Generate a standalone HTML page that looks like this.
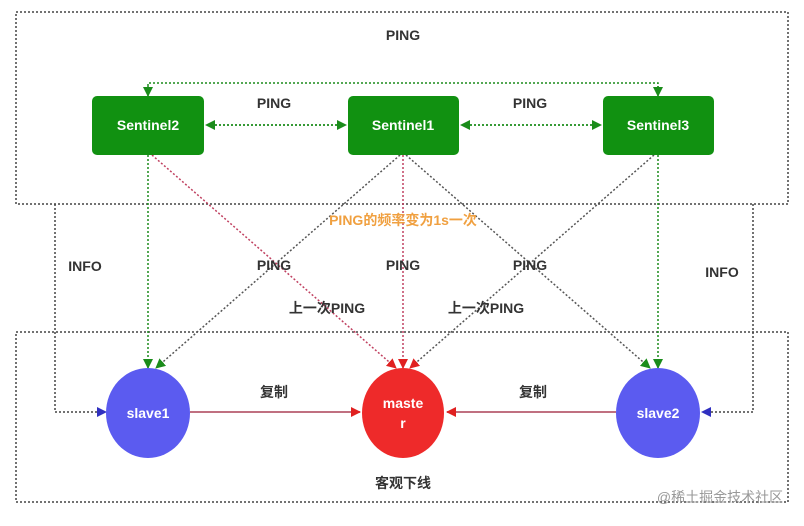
<!DOCTYPE html>
<html><head><meta charset="utf-8"><style>
body{margin:0;background:#fff;}
svg text{font-family:"Liberation Sans","Noto Sans CJK SC",sans-serif;font-weight:bold;}
</style></head><body>
<svg width="804" height="521" viewBox="0 0 804 521" xmlns="http://www.w3.org/2000/svg">
<defs>
<marker id="g" markerWidth="10" markerHeight="10" refX="9" refY="5" orient="auto" markerUnits="userSpaceOnUse"><path d="M0,0 L10,5 L0,10z" fill="#1a8c1a"/></marker>
<marker id="r" markerWidth="10" markerHeight="10" refX="9" refY="5" orient="auto" markerUnits="userSpaceOnUse"><path d="M0,0 L10,5 L0,10z" fill="#e02020"/></marker>
<marker id="b" markerWidth="10" markerHeight="10" refX="9" refY="5" orient="auto" markerUnits="userSpaceOnUse"><path d="M0,0 L10,5 L0,10z" fill="#3030c0"/></marker>
</defs>
<g fill="none" stroke="#444" stroke-width="1.5" stroke-dasharray="2,2">
<rect x="16" y="12" width="772" height="192"/>
<rect x="16" y="332" width="772" height="170"/>
</g>
<g fill="none" stroke-width="1.5" stroke-dasharray="2,2">
<path d="M148,94 V83 H658 V94" stroke="#1a8c1a"/>
<line x1="148" y1="86" x2="148" y2="96" stroke="#1a8c1a" marker-end="url(#g)"/>
<line x1="658" y1="86" x2="658" y2="96" stroke="#1a8c1a" marker-end="url(#g)"/>
<line x1="215" y1="125" x2="346" y2="125" stroke="#1a8c1a" marker-end="url(#g)"/>
<line x1="337" y1="125" x2="206" y2="125" stroke="#1a8c1a" marker-end="url(#g)"/>
<line x1="470" y1="125" x2="601" y2="125" stroke="#1a8c1a" marker-end="url(#g)"/>
<line x1="592" y1="125" x2="461" y2="125" stroke="#1a8c1a" marker-end="url(#g)"/>
<line x1="148" y1="155" x2="148" y2="368" stroke="#1a8c1a" marker-end="url(#g)"/>
<line x1="658" y1="155" x2="658" y2="368" stroke="#1a8c1a" marker-end="url(#g)"/>
<line x1="400" y1="155" x2="156" y2="368" stroke="#555" marker-end="url(#g)"/>
<line x1="406" y1="155" x2="650" y2="368" stroke="#555" marker-end="url(#g)"/>
<line x1="152" y1="155" x2="396" y2="368" stroke="#c04060" marker-end="url(#r)"/>
<line x1="403" y1="155" x2="403" y2="368" stroke="#c04060" marker-end="url(#r)"/>
<line x1="654" y1="155" x2="410" y2="368" stroke="#555" marker-end="url(#r)"/>
<path d="M55,204 V412 H106" stroke="#444" marker-end="url(#b)"/>
<path d="M753,204 V412 H702" stroke="#444" marker-end="url(#b)"/>
</g>
<line x1="190" y1="412" x2="360" y2="412" stroke="#c07080" stroke-width="2" marker-end="url(#r)"/>
<line x1="616" y1="412" x2="447" y2="412" stroke="#c07080" stroke-width="2" marker-end="url(#r)"/>
<g fill="#119111">
<rect x="92" y="96" width="112" height="59" rx="5"/>
<rect x="348" y="96" width="111" height="59" rx="5"/>
<rect x="603" y="96" width="111" height="59" rx="5"/>
</g>
<ellipse cx="148" cy="413" rx="42" ry="45" fill="#5b5bf0"/>
<ellipse cx="403" cy="413" rx="41" ry="45" fill="#ee2a2a"/>
<ellipse cx="658" cy="413" rx="42" ry="45" fill="#5b5bf0"/>
<g fill="#fff" font-size="14" text-anchor="middle">
<text x="148" y="130">Sentinel2</text>
<text x="403" y="130">Sentinel1</text>
<text x="658" y="130">Sentinel3</text>
<text x="148" y="418">slave1</text>
<text x="403" y="408">maste</text>
<text x="403" y="428">r</text>
<text x="658" y="418">slave2</text>
</g>
<g fill="#333" font-size="14" text-anchor="middle">
<text x="403" y="40">PING</text>
<text x="274" y="108">PING</text>
<text x="530" y="108">PING</text>
<text x="85" y="271">INFO</text>
<text x="722" y="277">INFO</text>
<text x="274" y="270">PING</text>
<text x="403" y="270">PING</text>
<text x="530" y="270">PING</text>
<text x="327" y="313">上一次PING</text>
<text x="486" y="313">上一次PING</text>
<text x="274" y="397">复制</text>
<text x="533" y="397">复制</text>
<text x="403" y="488">客观下线</text>
</g>
<text x="403" y="225" fill="#f0a040" font-size="14" text-anchor="middle">PING的频率变为1s一次</text>
<text x="720" y="502" fill="#999" font-size="14" font-weight="normal" text-anchor="middle" style="font-weight:normal">@稀土掘金技术社区</text>
</svg>
</body></html>
